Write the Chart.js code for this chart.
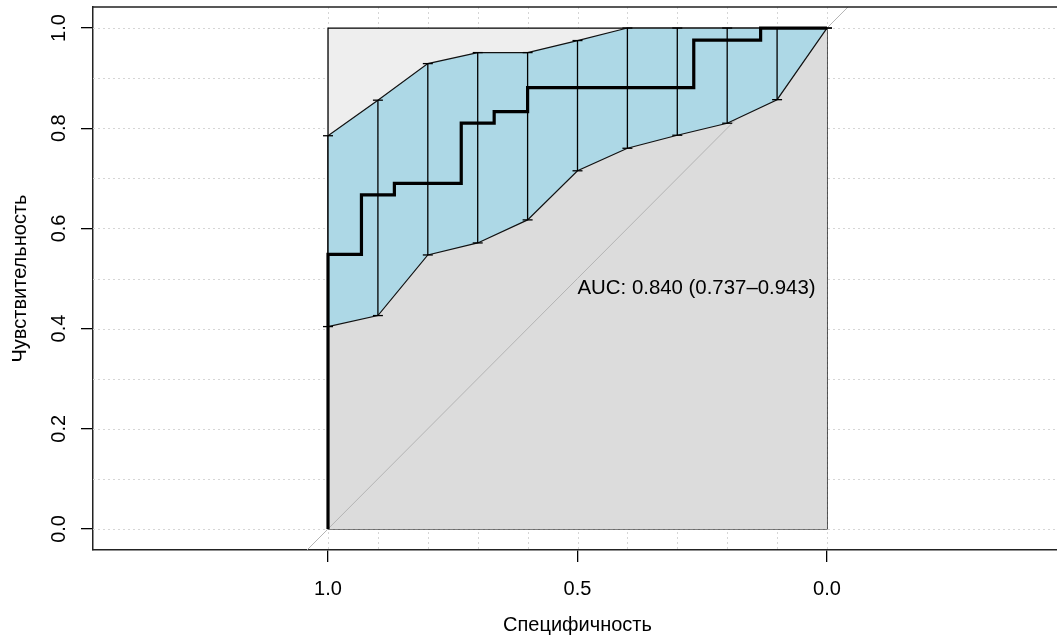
<!DOCTYPE html>
<html>
<head>
<meta charset="utf-8">
<script src="https://cdn.jsdelivr.net/npm/chart.js@4.4.1/dist/chart.umd.min.js"></script>
<style>
  html, body { margin: 0; padding: 0; background: #fff; overflow: hidden; }
</style>
</head>
<body>
<canvas id="roc" width="1070" height="637"></canvas>
<script>
/***********************
 * DATA
 ***********************/
// ROC curve corners (specificity, sensitivity)
const rocSpecificity = [1, 1, 0.933, 0.867, 0.733, 0.667, 0.6, 0.267, 0.133, 0];
const rocSensitivity = [0, 0.548, 0.667, 0.690, 0.810, 0.833, 0.881, 0.976, 1, 1];

// CI of sensitivity at fixed specificities
const ciSpecificity = [1, 0.9, 0.8, 0.7, 0.6, 0.5, 0.4, 0.3, 0.2, 0.1, 0];
const ciUpper = [0.785, 0.856, 0.929, 0.951, 0.951, 0.975, 1, 1, 1, 1, 1];
const ciLower = [0.404, 0.426, 0.547, 0.571, 0.617, 0.715, 0.760, 0.786, 0.810, 0.857, 1];

const xTicks = [1, 0.5, 0];
const yTicks = [0, 0.2, 0.4, 0.6, 0.8, 1];
const gridSteps = [0, 0.1, 0.2, 0.3, 0.4, 0.5, 0.6, 0.7, 0.8, 0.9, 1];

const aucLabel = "AUC: 0.840 (0.737–0.943)";
const xTitle = "Специфичность";
const yTitle = "Чувствительность";

/***********************
 * STYLE
 ***********************/
const FONT = { family: '"Liberation Sans", Arial, sans-serif', size: 20 };
const X_MIN = -0.471, X_MAX = 1.471;
const Y_MIN = -0.042, Y_MAX = 1.042;

/***********************
 * Helpers
 ***********************/
function pts(xs, ys) {
  return xs.map((x, i) => ({ x, y: ys[i] }));
}

function barPoints() {
  const out = [];
  ciSpecificity.forEach((s, i) => {
    out.push({ x: s, y: ciLower[i] }, { x: s, y: ciUpper[i] }, { x: s, y: null });
  });
  return out;
}

// dotted R-style grid, top border and AUC text
const rPlot = {
  id: "rPlot",
  beforeDatasetsDraw(chart) {
    const { ctx, chartArea: a, scales: { x, y } } = chart;
    ctx.save();
    ctx.strokeStyle = "#d6d6d6";
    ctx.lineWidth = 1;
    ctx.setLineDash([2, 3]);
    gridSteps.forEach((v) => {
      const px = Math.round(x.getPixelForValue(v)) + 0.5;
      ctx.beginPath(); ctx.moveTo(px, a.top); ctx.lineTo(px, a.bottom); ctx.stroke();
      const py = Math.round(y.getPixelForValue(v)) + 0.5;
      ctx.beginPath(); ctx.moveTo(a.left, py); ctx.lineTo(a.right, py); ctx.stroke();
    });
    ctx.restore();
  },
  afterDatasetsDraw(chart) {
    const { ctx, chartArea: a, scales: { x, y } } = chart;
    ctx.save();
    ctx.strokeStyle = "#222";
    ctx.lineWidth = 1.5;
    ctx.beginPath();
    ctx.moveTo(a.left, a.top); ctx.lineTo(a.right, a.top); ctx.lineTo(a.right, a.bottom);
    ctx.stroke();

    ctx.fillStyle = "#000";
    ctx.font = `20.4px ${FONT.family}`;
    ctx.textAlign = "left";
    ctx.textBaseline = "top";
    ctx.fillText(aucLabel, x.getPixelForValue(0.5), y.getPixelForValue(0.5));
    ctx.restore();
  },
};

function noEdgePadding(s) {
  s.paddingTop = 0; s.paddingBottom = 0; s.paddingLeft = 0; s.paddingRight = 0;
}

/***********************
 * Chart
 ***********************/
const lineBase = { pointRadius: 0, tension: 0 };

new Chart(document.getElementById("roc"), {
  type: "line",
  data: {
    datasets: [
      { ...lineBase, order: 7, data: pts([1, 1, 0, 0, 1], [0, 1, 1, 0, 0]),
        borderColor: "#000", borderWidth: 1.3, backgroundColor: "#eeeeee", fill: "shape" },
      { ...lineBase, order: 6, data: pts(rocSpecificity, rocSensitivity), stepped: true,
        borderWidth: 0, borderColor: "rgba(0,0,0,0)", backgroundColor: "#dcdcdc", fill: { value: 0 } },
      { ...lineBase, order: 5, data: pts([1.6, -0.6], [-0.6, 1.6]),
        borderColor: "#b4b4b4", borderWidth: 1, fill: false },
      { ...lineBase, order: 4, data: pts(ciSpecificity, ciUpper),
        borderColor: "#111", borderWidth: 1.2, backgroundColor: "#add8e6", fill: { target: "+1" } },
      { ...lineBase, order: 3, data: pts(ciSpecificity, ciLower),
        borderColor: "#111", borderWidth: 1.2, fill: false },
      { order: 2, data: barPoints(), spanGaps: false, tension: 0,
        borderColor: "#000", borderWidth: 1.3, fill: false,
        pointStyle: "line", pointRadius: 5, pointBorderWidth: 1.3, pointBorderColor: "#000" },
      { ...lineBase, order: 1, data: pts(rocSpecificity, rocSensitivity), stepped: true,
        borderColor: "#000", borderWidth: 3.2, fill: false },
    ],
  },
  options: {
    responsive: false,
    devicePixelRatio: 1,
    animation: false,
    layout: { padding: { top: 7, right: 8, left: 0, bottom: 0 } },
    plugins: { legend: { display: false }, tooltip: { enabled: false } },
    scales: {
      x: {
        type: "linear",
        reverse: true,
        min: X_MIN,
        max: X_MAX,
        afterBuildTicks: (s) => { s.ticks = xTicks.map((v) => ({ value: v })); },
        afterFit: (s) => { s.height = 87; noEdgePadding(s); },
        grid: { drawOnChartArea: false, drawTicks: true, tickLength: 12, color: "#000", lineWidth: 1.3 },
        border: { display: true, color: "#222", width: 1.5 },
        ticks: { font: FONT, color: "#000", padding: 15, maxRotation: 0, autoSkip: false,
                 callback: (v) => Number(v).toFixed(1) },
        title: { display: true, text: xTitle, font: FONT, color: "#000", padding: { top: 0, bottom: 0 } },
      },
      y: {
        type: "linear",
        min: Y_MIN,
        max: Y_MAX,
        afterBuildTicks: (s) => { s.ticks = yTicks.map((v) => ({ value: v })); },
        afterFit: (s) => { s.width = 93; noEdgePadding(s); },
        grid: { drawOnChartArea: false, drawTicks: true, tickLength: 12, color: "#000", lineWidth: 1.3 },
        border: { display: true, color: "#222", width: 1.5 },
        ticks: { font: FONT, color: "#000", padding: 8, minRotation: 90, maxRotation: 90,
                 crossAlign: "center", autoSkip: false,
                 callback: (v) => Number(v).toFixed(1) },
        title: { display: true, text: yTitle, font: FONT, color: "#000", padding: { top: 8, bottom: 0 } },
      },
    },
  },
  plugins: [rPlot],
});
</script>
</body>
</html>
